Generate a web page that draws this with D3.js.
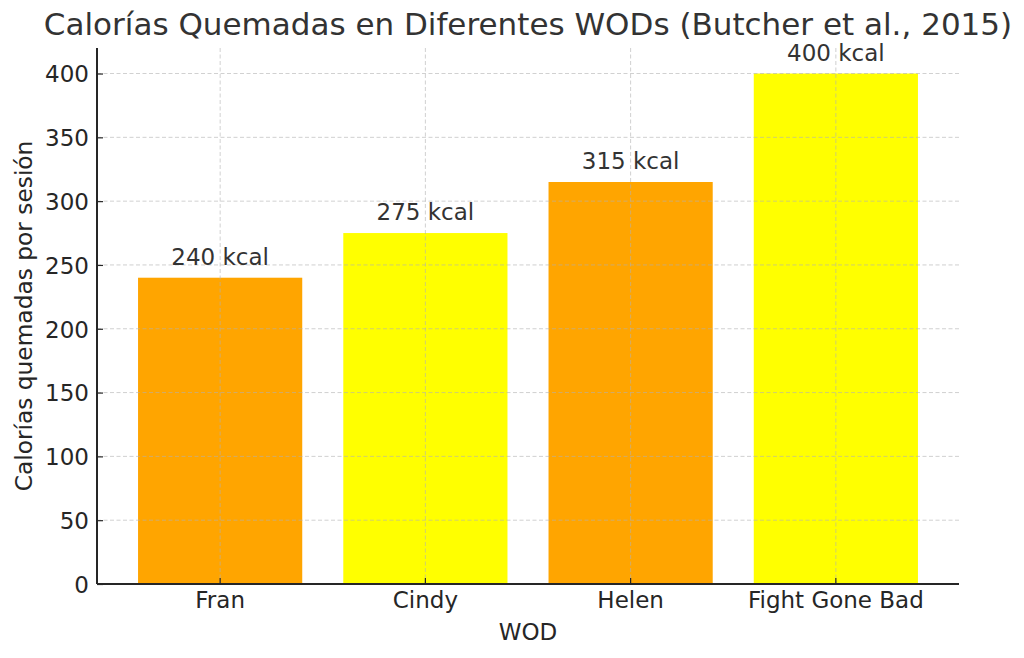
<!DOCTYPE html>
<html>
<head>
<meta charset="utf-8">
<script src="https://cdn.jsdelivr.net/npm/d3@7"></script>
<style>
  html, body { margin: 0; padding: 0; background: #fff; }
  svg { display: block; font-family: "DejaVu Sans", sans-serif; }
  .grid line { stroke: #b0b0b0; stroke-opacity: 0.6; stroke-dasharray: 4,2.5; }
</style>
</head>
<body>
<div id="root"></div>
<script>
// values
const wods = ["Fran", "Cindy", "Helen", "Fight Gone Bad"]
const calories = [240, 275, 315, 400]
const barColors = ["#FFA500", "#FFFF00", "#FFA500", "#FFFF00"]
const yTicks = [0, 50, 100, 150, 200, 250, 300, 350, 400]

const W = 1024, H = 658
const margin = {top: 48, right: 65, bottom: 74, left: 97}
const iw = W - margin.left - margin.right,
      ih = H - margin.top - margin.bottom

const svg = d3.select("#root").append("svg")
    .attr("width", W)
    .attr("height", H)

const g = svg.append("g").attr("transform", `translate(${margin.left},${margin.top})`)

const x = d3.scaleBand().domain(wods).range([0, iw]).paddingInner(0.2).paddingOuter(0.2)
const y = d3.scaleLinear().domain([0, 420]).range([ih, 0])

// bars
g.selectAll("rect.bar")
  .data(wods)
  .join("rect")
    .attr("class", "bar")
    .attr("x", d => x(d))
    .attr("width", x.bandwidth())
    .attr("y", (d, i) => y(calories[i]))
    .attr("height", (d, i) => ih - y(calories[i]))
    .attr("fill", (d, i) => barColors[i])

// grid, drawn over the bars like the original
const grid = g.append("g").attr("class", "grid")
grid.selectAll("line.h")
  .data(yTicks)
  .join("line")
    .attr("x1", 0).attr("x2", iw)
    .attr("y1", d => y(d)).attr("y2", d => y(d))
grid.selectAll("line.v")
  .data(wods)
  .join("line")
    .attr("x1", d => x(d) + x.bandwidth() / 2).attr("x2", d => x(d) + x.bandwidth() / 2)
    .attr("y1", 0).attr("y2", ih)

// axes, ticks pointing inward
const yAxis = g.append("g")
    .call(d3.axisLeft(y).tickValues(yTicks).tickSize(-6).tickPadding(8))
const xAxis = g.append("g")
    .attr("transform", `translate(0,${ih})`)
    .call(d3.axisBottom(x).tickSize(-6).tickPadding(7))

for (const ax of [yAxis, xAxis]) {
  ax.attr("font-family", "DejaVu Sans").attr("font-size", 23)
  ax.select(".domain").attr("stroke", "#262626").attr("stroke-width", 2)
  ax.selectAll(".tick line").attr("stroke", "#262626").attr("stroke-width", 1.2)
  ax.selectAll(".tick text").attr("fill", "#262626")
}
yAxis.select(".domain").attr("d", `M0,${ih}V0`)
xAxis.select(".domain").attr("d", `M0,0H${iw}`)
yAxis.selectAll(".tick text").attr("dy", "0.36em")
xAxis.selectAll(".tick text").attr("dy", "0.74em")

// value labels
g.selectAll("text.val")
  .data(wods)
  .join("text")
    .attr("class", "val")
    .attr("x", d => x(d) + x.bandwidth() / 2)
    .attr("y", (d, i) => y(calories[i]) - 13)
    .attr("text-anchor", "middle")
    .attr("fill", "#333")
    .attr("font-size", 23)
    .text((d, i) => `${calories[i]} kcal`)

// titles
svg.append("text")
    .attr("x", margin.left + iw / 2)
    .attr("y", 35)
    .attr("text-anchor", "middle")
    .attr("fill", "#333")
    .attr("font-size", 31)
    .text("Calorías Quemadas en Diferentes WODs (Butcher et al., 2015)")

svg.append("text")
    .attr("x", margin.left + iw / 2)
    .attr("y", 640)
    .attr("text-anchor", "middle")
    .attr("fill", "#262626")
    .attr("font-size", 23)
    .text("WOD")

svg.append("text")
    .attr("transform", `translate(32,${margin.top + ih / 2}) rotate(-90)`)
    .attr("text-anchor", "middle")
    .attr("fill", "#262626")
    .attr("font-size", 23.3)
    .text("Calorías quemadas por sesión")
</script>
</body>
</html>
